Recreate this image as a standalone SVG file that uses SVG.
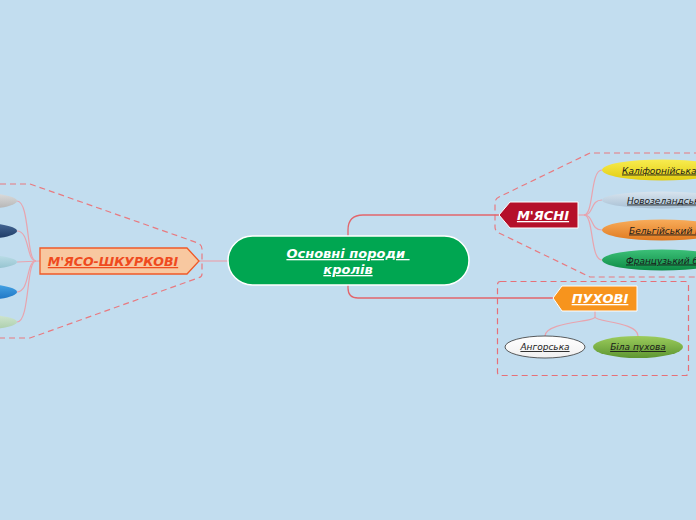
<svg xmlns="http://www.w3.org/2000/svg" width="696" height="520" viewBox="0 0 696 520">
<defs>
<linearGradient id="gYellow" x1="0" y1="0" x2="0" y2="1"><stop offset="0" stop-color="#f8ec50"/><stop offset="1" stop-color="#e2cc10"/></linearGradient>
<linearGradient id="gSilver" x1="0" y1="0" x2="0" y2="1"><stop offset="0" stop-color="#d8e4ee"/><stop offset="1" stop-color="#a8c0d4"/></linearGradient>
<linearGradient id="gOrange" x1="0" y1="0" x2="0" y2="1"><stop offset="0" stop-color="#f8ac5a"/><stop offset="1" stop-color="#e07a20"/></linearGradient>
<linearGradient id="gGreen" x1="0" y1="0" x2="0" y2="1"><stop offset="0" stop-color="#3cc078"/><stop offset="1" stop-color="#0c8a44"/></linearGradient>
<linearGradient id="gLime" x1="0" y1="0" x2="0" y2="1"><stop offset="0" stop-color="#9ccc5c"/><stop offset="1" stop-color="#5e9632"/></linearGradient>
<linearGradient id="gWhite" x1="0" y1="0" x2="0" y2="1"><stop offset="0" stop-color="#ffffff"/><stop offset="1" stop-color="#f0f0f0"/></linearGradient>
<linearGradient id="gGrey" x1="0" y1="0" x2="0" y2="1"><stop offset="0" stop-color="#e0e0e0"/><stop offset="1" stop-color="#b0b0b0"/></linearGradient>
<linearGradient id="gNavy" x1="0" y1="0" x2="0" y2="1"><stop offset="0" stop-color="#4a6c9a"/><stop offset="1" stop-color="#1a3660"/></linearGradient>
<linearGradient id="gTeal" x1="0" y1="0" x2="0" y2="1"><stop offset="0" stop-color="#c0e0ea"/><stop offset="1" stop-color="#90c0cc"/></linearGradient>
<linearGradient id="gBlue" x1="0" y1="0" x2="0" y2="1"><stop offset="0" stop-color="#4aa8e8"/><stop offset="1" stop-color="#1a70c0"/></linearGradient>
<linearGradient id="gMint" x1="0" y1="0" x2="0" y2="1"><stop offset="0" stop-color="#d4e8d4"/><stop offset="1" stop-color="#a8cca8"/></linearGradient>
</defs>
<style>
.bnd{fill:none;stroke:#e87a80;stroke-width:1.2;stroke-dasharray:6,4}
.con{fill:none;stroke:#e8a4ae;stroke-width:1.2}
.main{fill:none;stroke:#e2666c;stroke-width:1.3}
.t{font-family:"DejaVu Sans",sans-serif;font-style:italic;text-decoration:underline}
.big{font-weight:bold;font-size:13px;fill:#ffffff;text-anchor:middle}
.sm{font-size:9px;fill:#1a1a1a}
</style>
<rect width="696" height="520" fill="#c2ddef"/>
<g id="boundaries">
<path class="bnd" d="M0,184 L30,184 L198,243 Q202,245 202,249 L202,274 Q202,277 198,278 L30,338 L0,338"/>
<path class="bnd" d="M700,153 L590,153 L499,197 Q495,199 495,203 L495,227 Q495,231 499,233 L590,277 L700,277"/>
<rect class="bnd" x="497.5" y="281.5" width="191" height="94" rx="3" style="stroke:#e67078"/>
</g>
<g id="connectors">
<path class="con" d="M199,261 L228,261"/>
<path class="main" d="M348,236 L348,230 Q348,215 363,215 L499,215"/>
<path class="main" d="M348,285 L348,288 Q348,298 358,298 L553,298"/>
<path class="con" d="M17,201 C30,201 26,261 36,261"/>
<path class="con" d="M17,231 C30,231 26,261 36,261"/>
<path class="con" d="M17,262 L40,261"/>
<path class="con" d="M17,292 C30,292 26,261 36,261"/>
<path class="con" d="M17,322 C30,322 26,261 36,261"/>
<path class="con" d="M578,215 L584,215"/>
<path class="con" d="M584,215 C594,215 590,170 602,170"/>
<path class="con" d="M584,215 C594,215 590,200 602,200"/>
<path class="con" d="M584,215 C594,215 590,230 602,230"/>
<path class="con" d="M584,215 C594,215 590,260 602,260"/>
<path class="con" d="M595,311 L595,317 C595,322 545,322 545,336"/>
<path class="con" d="M595,317 C595,322 638,322 638,336"/>
</g>
<g id="central">
<rect x="228" y="236" width="241" height="49" rx="24.5" fill="#00a651" stroke="#ffffff" stroke-width="1.5"/>
<text class="t big" x="348" y="258" xml:space="preserve">Основні породи </text>
<text class="t big" x="348" y="274">кролів</text>
</g>
<g id="myasni">
<polygon points="499,215 510,202 578,202 578,228 510,228" fill="#b5102a" stroke="#ffffff" stroke-width="1"/>
<text class="t big" x="543" y="220">М'ЯСНІ</text>
</g>
<g id="kaliforniyska">
<ellipse cx="662" cy="170" rx="60" ry="10.5" fill="url(#gYellow)"/>
<text class="t sm" x="622" y="173.5">Каліфорнійська</text>
</g>
<g id="novozelandska">
<ellipse cx="662" cy="200" rx="60" ry="8.5" fill="url(#gSilver)"/>
<text class="t sm" x="627" y="203.5">Новозеландська</text>
</g>
<g id="belgiyskyi">
<ellipse cx="662" cy="230" rx="60" ry="10.5" fill="url(#gOrange)"/>
<text class="t sm" x="629" y="233.5">Бельгійський велетень</text>
</g>
<g id="frantsuzkyi">
<ellipse cx="662" cy="260" rx="60" ry="10.5" fill="url(#gGreen)"/>
<text class="t sm" x="626" y="263.5">Французький баран</text>
</g>
<g id="pukhovi">
<polygon points="553,298 562,286 637,286 637,311 562,311" fill="#f7941d" stroke="#ffffff" stroke-width="1"/>
<text class="t big" x="600" y="303">ПУХОВІ</text>
</g>
<g id="angorska">
<ellipse cx="545" cy="347" rx="40" ry="11" fill="url(#gWhite)" stroke="#333333" stroke-width="0.8"/>
<text class="t sm" x="545" y="350" text-anchor="middle">Ангорська</text>
</g>
<g id="bila-pukhova">
<ellipse cx="638" cy="347" rx="45" ry="11" fill="url(#gLime)"/>
<text class="t sm" x="638" y="350" text-anchor="middle">Біла пухова</text>
</g>
<g id="myaso-shkurkovi">
<polygon points="40,248 187,248 199,261 187,274 40,274" fill="#f8c8a0" stroke="#f05a28" stroke-width="1.3"/>
<text class="t" x="113" y="266" text-anchor="middle" font-size="12.5" font-weight="bold" fill="#ef4a1e">М'ЯСО-ШКУРКОВІ</text>
</g>
<g id="left-1"><ellipse cx="-40" cy="201" rx="57" ry="9.5" fill="url(#gGrey)"/></g>
<g id="left-2"><ellipse cx="-40" cy="231" rx="57" ry="9.5" fill="url(#gNavy)"/></g>
<g id="left-3"><ellipse cx="-40" cy="262" rx="57" ry="8.5" fill="url(#gTeal)"/></g>
<g id="left-4"><ellipse cx="-40" cy="292" rx="57" ry="9.5" fill="url(#gBlue)"/></g>
<g id="left-5"><ellipse cx="-40" cy="322" rx="57" ry="9" fill="url(#gMint)"/></g>
</svg>
